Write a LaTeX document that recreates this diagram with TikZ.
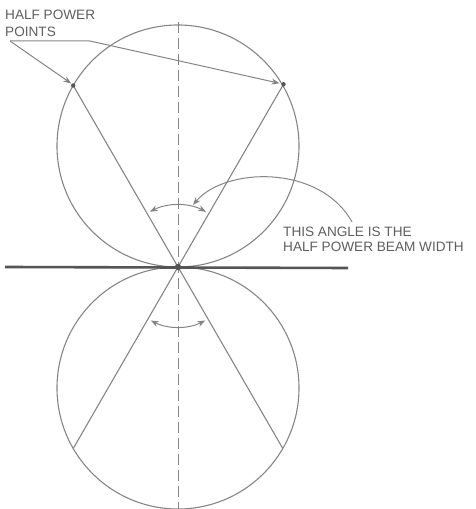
\documentclass[tikz,border=0pt]{standalone}
\usepackage{fontspec}
\setmainfont{Liberation Sans}
\usetikzlibrary{arrows.meta,calc}
\definecolor{ink}{HTML}{858585}
\definecolor{txt}{HTML}{5E5E5E}
\definecolor{dark}{HTML}{555555}
\tikzset{
  thin line/.style={draw=ink, line width=1.1pt},
  tip/.style={Stealth[length=8pt,width=6pt,fill=dark]},
  lead/.style={draw=ink, line width=1pt, -{Stealth[length=8pt,width=6pt,fill=dark]}},
  dbl/.style={draw=ink, line width=1pt, {Stealth[length=8pt,width=6pt,fill=dark]}-{Stealth[length=8pt,width=6pt,fill=dark]}},
  label text/.style={text=txt, inner sep=0pt, font=\fontsize{13.6}{15}\selectfont, align=left},
}
\begin{document}
\begin{tikzpicture}[x=1pt,y=1pt]
\useasboundingbox (0,0) rectangle (475,509);
% main geometry
\coordinate (C) at (178,242);
\coordinate (U) at (178,363);
\coordinate (D) at (178,121);
\draw[thin line] (U) circle (121);
\draw[thin line] (D) circle (121);
% half power points
\coordinate (UL) at ($(C)+(120:209.6)$);
\coordinate (UR) at ($(C)+(60:211)$);
\coordinate (DL) at ($(C)+(240:209.6)$);
\coordinate (DR) at ($(C)+(300:209.6)$);
\draw[thin line] (UL) -- (C) -- (UR);
\draw[thin line] (DL) -- (C) -- (DR);
\fill[dark] (UL) circle (2.2);
\fill[dark] (UR) circle (2.2);
% axis
\coordinate (AT) at (178,487);
\coordinate (AB) at (178,0);
\draw[ink, line width=1pt, dash pattern=on 11pt off 5pt] (AT) -- (AB);
\coordinate (HL) at (5,242);
\coordinate (HR) at (348,241);
\draw[dark, line width=2.6pt] (HL) -- (HR);
\fill[dark] (C) circle (3.2);
% angle arcs
\draw[dbl] ($(C)+(117:62)$) arc[start angle=117, end angle=63, radius=62];
\draw[dbl] ($(C)+(243:60)$) arc[start angle=243, end angle=297, radius=60];
% labels
\node[label text, anchor=north west] (hp) at (5,499) {HALF POWER\\[1.5pt]POINTS};
\node[label text, anchor=north west] (bw) at (283,282) {THIS ANGLE IS THE\\HALF POWER BEAM WIDTH};
% leaders
\coordinate (P0) at (10,468);
\coordinate (P1) at (90,468);
\draw[lead] (P0) -- (P1) -- ($(UR)+(-4,1)$);
\draw[lead] (P0) -- ($(UL)+(-2,2)$);
\coordinate (Q0) at (352,287);
\draw[lead] (Q0) .. controls (320,345) and (225,342) .. (193,304);
\end{tikzpicture}
\end{document}
